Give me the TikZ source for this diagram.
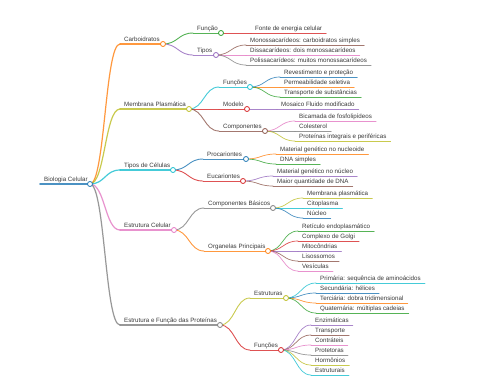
\documentclass[tikz,border=0pt]{standalone}
\usepackage{fontspec}
\setmainfont{Liberation Sans}
\usetikzlibrary{calc}
\definecolor{c0}{HTML}{1F77B4}
\definecolor{c1}{HTML}{FF7F0E}
\definecolor{c2}{HTML}{2CA02C}
\definecolor{c3}{HTML}{D62728}
\definecolor{c4}{HTML}{9467BD}
\definecolor{c5}{HTML}{8C564B}
\definecolor{c6}{HTML}{E377C2}
\definecolor{c7}{HTML}{7F7F7F}
\definecolor{c8}{HTML}{BCBD22}
\definecolor{c9}{HTML}{17BECF}
\definecolor{mmtxt}{HTML}{3A3A3A}
\tikzset{
  mmtext/.style={font=\fontsize{6.2}{7}\selectfont, text=mmtxt, inner sep=0pt, anchor=base west},
  mmline/.style={line cap=round, draw opacity=0.8},
}
% branch node: name, color, lw, xs, xe, y, text
\newcommand\mmbr[7]{%
  \coordinate (#1-s) at (#4,#6);
  \coordinate (#1-e) at (#5,#6);
  \node[mmtext] (#1) at (#4+4,#6-3) {#7};
  \draw[mmline, #2, line width=#3] (#1-s) -- (#1-e);
}
% leaf node: name, color, xs, y, text
\newcommand\mmleaf[5]{%
  \coordinate (#1-s) at (#3,#4);
  \node[mmtext] (#1) at (#3+4,#4-3) {#5};
  \coordinate (#1-e) at ($(#1.base east)+(4,3)$);
  \draw[mmline, #2, line width=0.7] (#1-s) -- (#1-e);
}
% edge: from, to, color, lw
\newcommand\mmedge[4]{%
  \draw[mmline, #3, line width=#4] (#1-e) .. controls +(15,0) and +(-15,0) .. (#2-s);
}
% circle: name, color
\newcommand\mmdot[2]{%
  \draw[#2, line width=0.8, fill=white] (#1-e) circle[radius=2.5pt];
}
\begin{document}
\begin{tikzpicture}[x=1pt,y=-1pt]
\useasboundingbox[fill=white] (0,0) rectangle (480,384);
% root
\mmbr{root}{c0}{1.6}{40}{90}{184}{Biologia Celular}
% Carboidratos
\mmbr{carb}{c1}{1.2}{120}{163}{44}{Carboidratos}
\mmbr{funcao}{c2}{0.9}{193}{221}{33}{Função}
\mmleaf{fonte}{c3}{251}{33}{Fonte de energia celular}
\mmbr{tipos}{c4}{0.9}{193}{216}{55}{Tipos}
\mmleaf{mono}{c5}{246}{45}{Monossacarídeos: carboidratos simples}
\mmleaf{dissa}{c6}{246}{55}{Dissacarídeos: dois monossacarídeos}
\mmleaf{poli}{c7}{246}{65}{Polissacarídeos: muitos monossacarídeos}
% Membrana
\mmbr{memb}{c8}{1.2}{120}{189}{109}{Membrana Plasmática}
\mmbr{funcoes}{c9}{0.9}{219}{250}{87}{Funções}
\mmleaf{revest}{c0}{280}{77}{Revestimento e proteção}
\mmleaf{perm}{c1}{280}{87}{Permeabilidade seletiva}
\mmleaf{transp}{c2}{280}{97}{Transporte de substâncias}
\mmbr{modelo}{c3}{0.9}{219}{247}{109}{Modelo}
\mmleaf{mosaico}{c4}{277}{109}{Mosaico Fluido modificado}
\mmbr{comp}{c5}{0.9}{219}{265}{131}{Componentes}
\mmleaf{bicam}{c6}{295}{121}{Bicamada de fosfolipídeos}
\mmleaf{colest}{c7}{295}{131}{Colesterol}
\mmleaf{protint}{c8}{295}{141}{Proteínas integrais e periféricas}
% Tipos de Celulas
\mmbr{tiposcel}{c9}{1.2}{120}{173}{170}{Tipos de Células}
\mmbr{proc}{c0}{0.9}{203}{246}{159}{Procariontes}
\mmleaf{matnuc}{c1}{276}{154}{Material genético no nucleoide}
\mmleaf{dnas}{c2}{276}{164}{DNA simples}
\mmbr{euc}{c3}{0.9}{203}{243}{181}{Eucariontes}
\mmleaf{matnucleo}{c4}{273}{176}{Material genético no núcleo}
\mmleaf{maior}{c5}{273}{186}{Maior quantidade de DNA}
% Estrutura Celular
\mmbr{estcel}{c6}{1.2}{120}{174}{230}{Estrutura Celular}
\mmbr{compbas}{c7}{0.9}{204}{273}{208}{Componentes Básicos}
\mmleaf{membp}{c8}{303}{198}{Membrana plasmática}
\mmleaf{cito}{c9}{303}{208}{Citoplasma}
\mmleaf{nucleo}{c0}{303}{218}{Núcleo}
\mmbr{organ}{c1}{0.9}{204}{268}{251}{Organelas Principais}
\mmleaf{ret}{c2}{298}{231}{Retículo endoplasmático}
\mmleaf{golgi}{c3}{298}{241}{Complexo de Golgi}
\mmleaf{mito}{c4}{298}{251}{Mitocôndrias}
\mmleaf{liso}{c5}{298}{261}{Lisossomos}
\mmleaf{vesic}{c6}{298}{271}{Vesículas}
% Proteinas
\mmbr{prot}{c7}{1.2}{120}{220}{325}{Estrutura e Função das Proteínas}
\mmbr{estr}{c8}{0.9}{250}{286}{298}{Estruturas}
\mmleaf{prim}{c9}{316}{283}{Primária: sequência de aminoácidos}
\mmleaf{sec}{c0}{316}{293}{Secundária: hélices}
\mmleaf{terc}{c1}{316}{303}{Terciária: dobra tridimensional}
\mmleaf{quat}{c2}{316}{313}{Quaternária: múltiplas cadeias}
\mmbr{funcp}{c3}{0.9}{250}{281}{350}{Funções}
\mmleaf{enz}{c4}{311}{325}{Enzimáticas}
\mmleaf{transpp}{c5}{311}{335}{Transporte}
\mmleaf{contr}{c6}{311}{345}{Contráteis}
\mmleaf{protet}{c7}{311}{355}{Protetoras}
\mmleaf{horm}{c8}{311}{365}{Hormônios}
\mmleaf{estrut}{c9}{311}{375}{Estruturais}
% edges
\mmedge{root}{carb}{c1}{1.2}
\mmedge{root}{memb}{c8}{1.2}
\mmedge{root}{tiposcel}{c9}{1.2}
\mmedge{root}{estcel}{c6}{1.2}
\mmedge{root}{prot}{c7}{1.2}
\mmedge{carb}{funcao}{c2}{0.9}
\mmedge{carb}{tipos}{c4}{0.9}
\mmedge{funcao}{fonte}{c3}{0.7}
\mmedge{tipos}{mono}{c5}{0.7}
\mmedge{tipos}{dissa}{c6}{0.7}
\mmedge{tipos}{poli}{c7}{0.7}
\mmedge{memb}{funcoes}{c9}{0.9}
\mmedge{memb}{modelo}{c3}{0.9}
\mmedge{memb}{comp}{c5}{0.9}
\mmedge{funcoes}{revest}{c0}{0.7}
\mmedge{funcoes}{perm}{c1}{0.7}
\mmedge{funcoes}{transp}{c2}{0.7}
\mmedge{modelo}{mosaico}{c4}{0.7}
\mmedge{comp}{bicam}{c6}{0.7}
\mmedge{comp}{colest}{c7}{0.7}
\mmedge{comp}{protint}{c8}{0.7}
\mmedge{tiposcel}{proc}{c0}{0.9}
\mmedge{tiposcel}{euc}{c3}{0.9}
\mmedge{proc}{matnuc}{c1}{0.7}
\mmedge{proc}{dnas}{c2}{0.7}
\mmedge{euc}{matnucleo}{c4}{0.7}
\mmedge{euc}{maior}{c5}{0.7}
\mmedge{estcel}{compbas}{c7}{0.9}
\mmedge{estcel}{organ}{c1}{0.9}
\mmedge{compbas}{membp}{c8}{0.7}
\mmedge{compbas}{cito}{c9}{0.7}
\mmedge{compbas}{nucleo}{c0}{0.7}
\mmedge{organ}{ret}{c2}{0.7}
\mmedge{organ}{golgi}{c3}{0.7}
\mmedge{organ}{mito}{c4}{0.7}
\mmedge{organ}{liso}{c5}{0.7}
\mmedge{organ}{vesic}{c6}{0.7}
\mmedge{prot}{estr}{c8}{0.9}
\mmedge{prot}{funcp}{c3}{0.9}
\mmedge{estr}{prim}{c9}{0.7}
\mmedge{estr}{sec}{c0}{0.7}
\mmedge{estr}{terc}{c1}{0.7}
\mmedge{estr}{quat}{c2}{0.7}
\mmedge{funcp}{enz}{c4}{0.7}
\mmedge{funcp}{transpp}{c5}{0.7}
\mmedge{funcp}{contr}{c6}{0.7}
\mmedge{funcp}{protet}{c7}{0.7}
\mmedge{funcp}{horm}{c8}{0.7}
\mmedge{funcp}{estrut}{c9}{0.7}
% circles
\mmdot{root}{c0}
\mmdot{carb}{c1}
\mmdot{funcao}{c2}
\mmdot{tipos}{c4}
\mmdot{memb}{c8}
\mmdot{funcoes}{c9}
\mmdot{modelo}{c3}
\mmdot{comp}{c5}
\mmdot{tiposcel}{c9}
\mmdot{proc}{c0}
\mmdot{euc}{c3}
\mmdot{estcel}{c6}
\mmdot{compbas}{c7}
\mmdot{organ}{c1}
\mmdot{prot}{c7}
\mmdot{estr}{c8}
\mmdot{funcp}{c3}
\end{tikzpicture}
\end{document}
